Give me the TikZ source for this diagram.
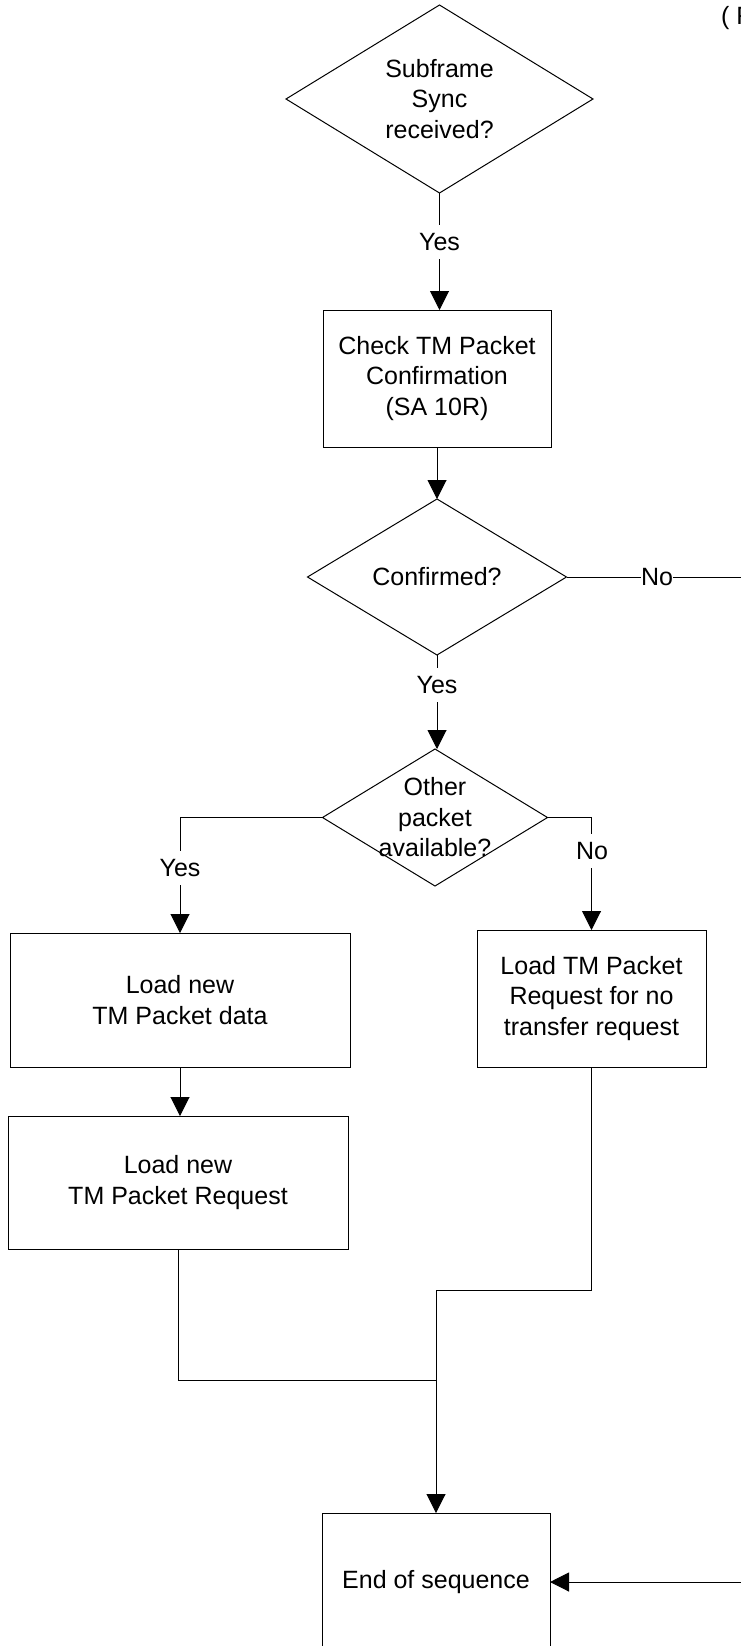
\documentclass[tikz,border=0pt]{standalone}
\usepackage{fontspec}
\setmainfont{Liberation Sans}
\usetikzlibrary{shapes.geometric,arrows.meta}
\begin{document}
\begin{tikzpicture}[x=1pt,y=-1pt,
  every node/.style={font=\fontsize{25}{30.5}\selectfont},
  dec/.style={draw, shape=diamond, inner sep=0pt, outer sep=0pt, line width=1pt},
  box/.style={draw, rectangle, inner sep=0pt, outer sep=0pt, line width=1pt, align=center},
  txt/.style={align=center, inner sep=0pt},
  lbl/.style={fill=white, inner xsep=0pt, inner ysep=8pt},
  con/.style={line width=1pt},
  arr/.style={line width=1pt, -{Triangle[width=19pt,length=19pt]}},
]
\useasboundingbox (0,0) rectangle (741,1646);
\clip (0,0) rectangle (741,1646);

% decisions
\node[dec, minimum width=307pt, minimum height=188pt] (d1) at (439.5,99) {};
\node[txt] (d1t) at (d1.center) {Subframe\\Sync\\received?};
\node[dec, minimum width=259pt, minimum height=156pt] (d2) at (437,577) {};
\node[txt] (d2t) at (d2.center) {Confirmed?};
\node[dec, minimum width=225pt, minimum height=137pt] (d3) at (435,817.5) {};
\node[txt] (d3t) at (d3.center) {Other\\packet\\available?};

% boxes
\node[box, minimum width=228pt, minimum height=137pt] (b1) at (437,378.5) {Check TM Packet\\Confirmation\\(SA 10R)};
\node[box, minimum width=340pt, minimum height=134pt] (b2) at (180,1000) {Load new\\TM Packet data};
\node[box, minimum width=340pt, minimum height=133pt] (b3) at (178,1182.5) {Load new\\TM Packet Request};
\node[box, minimum width=229pt, minimum height=137pt] (b4) at (591.5,998.5) {Load TM Packet\\Request for no\\transfer request};
\node[box, minimum width=228pt, minimum height=138pt] (b5) at (436,1582) {End of sequence};

% corner text (cut off at the right edge)
\node[anchor=west, inner sep=0pt] (ft) at (721,18) {( F};

% connectors
\draw[arr] (d1.south) -- (d1.south |- b1.north);
\draw[arr] (b1.south) -- (b1.south |- d2.north);
\draw[arr] (d2.south) -- (d2.south |- d3.north);
\draw[arr] (d3.west) -| (b2.north);
\draw[arr] (d3.east) -| (b4.north);
\draw[arr] (b2.south) -- (b2.south |- b3.north);
\coordinate (j1) at (436,1380);
\coordinate (j2) at (436,1290);
\draw[con] (b3.south) |- (j1);
\draw[arr] (b4.south) |- (j2) -- (j2 |- b5.north);
\coordinate (r1) at (770,577);
\coordinate (r2) at (770,1582);
\draw[arr] (d2.east) -- (r1) -- (r2) -- (b5.east);

% labels
\node[lbl] (l1) at (439.5,242) {Yes};
\node[lbl] (l2) at (437,685) {Yes};
\node[lbl] (l3) at (180,868) {Yes};
\node[lbl] (l4) at (592,851) {No};
\node[lbl] (l5) at (657,577) {No};
\end{tikzpicture}
\end{document}
